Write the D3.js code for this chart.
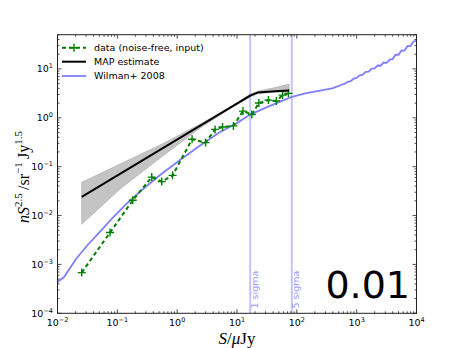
<!DOCTYPE html>
<html>
<head>
<meta charset="utf-8">
<script src="https://cdn.jsdelivr.net/npm/d3@7"></script>
<style>
body { margin: 0; background: #fff; }
svg { display: block; }
</style>
</head>
<body>
<div id="chart"></div>
<script>
// data points (noise-free input)
var dataS = [0.0254, 0.0755, 0.181, 0.376, 0.552, 0.838, 1.775, 2.98, 4.30, 5.74, 8.71, 12.6, 17.7, 23.2, 33.5, 45.4, 57.9, 72.4];
var dataN = [6.8e-4, 4.5e-3, 0.0205, 0.0612, 0.0495, 0.0664, 0.363, 0.311, 0.579, 0.646, 0.682, 1.37, 1.17, 2.0, 2.30, 2.20, 2.91, 3.16];

// MAP estimate and its band
var mapS = [0.0254, 16.6, 22.5, 43.4, 74.3];
var mapN = [0.0242, 2.84, 3.3, 3.5, 3.62];
var bandS = [0.0254, 0.111, 0.518, 2.42, 7.67, 16.6, 22.5, 43.4, 74.3];
var bandLo = [0.0066, 0.0348, 0.150, 0.615, 1.54, 2.65, 3.13, 3.36, 3.36];
var bandHi = [0.0478, 0.113, 0.277, 0.743, 1.66, 3.05, 3.52, 4.15, 4.89];

// Wilman+ 2008
var wilmanS = [0.01, 0.01285, 0.0162, 0.0204, 0.0308, 0.0514, 0.0857, 0.1435, 0.240, 0.518, 1.117, 2.415, 5.21, 9.66, 16.6, 33.1, 80.3, 137.7, 245, 405,
  446.7, 501.2, 562.3, 631, 707.9, 794.3, 891.3, 1000, 1122, 1259, 1413, 1585, 1778, 1995, 2239, 2512, 2818, 3162, 3548, 3981, 4467, 5012, 5623, 6310, 7079, 7943, 8913, 10000];
var wilmanN = [4.37e-4, 5.52e-4, 8.43e-4, 1.29e-3, 2.38e-3, 4.71e-3, 9.31e-3, 0.01758, 0.0310, 0.0673, 0.1365, 0.270, 0.511, 0.760, 1.162, 1.694, 2.65, 3.16, 3.60, 4.05,
  4.27, 4.42, 4.79, 4.95, 5.43, 5.62, 6.31, 6.53, 7.41, 7.59, 8.71, 8.81, 10.12, 10.23, 11.75, 11.61, 13.49, 13.34, 15.49, 15.85, 19.50, 19.50, 23.99, 23.71, 29.51, 29.17, 36.31, 37.58];

var sigmaS = [16.6, 82.5];
var sigmaLabels = ["1 sigma", "5 sigma"];
var xTicks = [1e-2, 1e-1, 1e0, 1e1, 1e2, 1e3, 1e4];
var xExp = ["\u22122", "\u22121", "0", "1", "2", "3", "4"];
var yTicks = [1e-4, 1e-3, 1e-2, 1e-1, 1e0, 1e1];
var yExp = ["\u22124", "\u22123", "\u22122", "\u22121", "0", "1"];
var legendLabels = ["data (noise-free, input)", "MAP estimate", "Wilman+ 2008"];

var W = 463, H = 348;
var x0 = 57.5, x1 = 416.5, y0 = 313.3, y1 = 34.7;

var x = d3.scaleLog().domain([1e-2, 1e4]).range([x0, x1]);
var y = d3.scaleLog().domain([1e-4, 50.1]).range([y0, y1]);

var svg = d3.select('#chart').append('svg')
    .attr('width', W)
    .attr('height', H)
    .style('font-family', 'DejaVu Sans, sans-serif');

svg.append('clipPath').attr('id', 'clip')
    .append('rect')
    .attr('x', x0).attr('y', y1)
    .attr('width', x1 - x0).attr('height', y0 - y1);

var plot = svg.append('g').attr('clip-path', 'url(#clip)');

// sigma lines
plot.selectAll('line.sigma')
    .data(sigmaS)
    .enter().append('line')
        .attr('class', 'sigma')
        .attr('x1', function(d) { return x(d) })
        .attr('x2', function(d) { return x(d) })
        .attr('y1', y1).attr('y2', y0)
        .style('stroke', '#c4c4ff')
        .style('stroke-width', 2);

svg.selectAll('text.sigma')
    .data(sigmaS)
    .enter().append('text')
        .attr('class', 'sigma')
        .text(function(d, i) { return sigmaLabels[i] })
        .attr('transform', function(d) { return 'translate(' + (x(d) + 7.5) + ',308.5) rotate(-90)' })
        .style('font-size', '9.5px')
        .style('fill', '#9a9aff');

// band
var bandIdx = d3.range(bandS.length);
plot.append('path')
    .datum(bandIdx)
    .attr('d', d3.area()
        .x(function(i) { return x(bandS[i]) })
        .y0(function(i) { return y(bandLo[i]) })
        .y1(function(i) { return y(bandHi[i]) })
    )
    .style('fill', '#c4c4c4')
    .style('stroke', '#a8a8a8')
    .style('stroke-width', 0.6);

// Wilman curve
plot.append('path')
    .datum(d3.range(wilmanS.length))
    .attr('d', d3.line()
        .x(function(i) { return x(wilmanS[i]) })
        .y(function(i) { return y(wilmanN[i]) })
    )
    .style('fill', 'none')
    .style('stroke', '#7f7fff')
    .style('stroke-width', 1.8);

// data dashed line + markers
plot.append('path')
    .datum(d3.range(dataS.length))
    .attr('d', d3.line()
        .x(function(i) { return x(dataS[i]) })
        .y(function(i) { return y(dataN[i]) })
    )
    .style('fill', 'none')
    .style('stroke', '#008000')
    .style('stroke-width', 2)
    .style('stroke-dasharray', '4,3');

plot.selectAll('path.pt')
    .data(d3.range(dataS.length))
    .enter().append('path')
        .attr('class', 'pt')
        .attr('d', 'M-4,0H4M0,-4V4')
        .attr('transform', function(i) { return 'translate(' + x(dataS[i]) + ',' + y(dataN[i]) + ')' })
        .style('stroke', '#008000')
        .style('stroke-width', 1.4);

// MAP line
plot.append('path')
    .datum(d3.range(mapS.length))
    .attr('d', d3.line()
        .x(function(i) { return x(mapS[i]) })
        .y(function(i) { return y(mapN[i]) })
    )
    .style('fill', 'none')
    .style('stroke', '#000')
    .style('stroke-width', 2);

// frame
svg.append('rect')
    .attr('x', x0).attr('y', y1)
    .attr('width', x1 - x0).attr('height', y0 - y1)
    .style('fill', 'none')
    .style('stroke', '#222')
    .style('stroke-width', 1);

// ticks (inside, all four sides)
var xMinor = [], yMinor = [];
xTicks.forEach(function(t) { for (var k = 2; k < 10; k++) if (t * k < 1e4) xMinor.push(t * k) });
yTicks.forEach(function(t) { for (var k = 2; k < 10; k++) if (t * k < 50.1) yMinor.push(t * k) });

var ticks = svg.append('g').style('stroke', '#222').style('stroke-width', 0.8);
function xt(vals, len) {
    vals.forEach(function(v) {
        ticks.append('line').attr('x1', x(v)).attr('x2', x(v)).attr('y1', y0).attr('y2', y0 - len);
        ticks.append('line').attr('x1', x(v)).attr('x2', x(v)).attr('y1', y1).attr('y2', y1 + len);
    });
}
function yt(vals, len) {
    vals.forEach(function(v) {
        ticks.append('line').attr('y1', y(v)).attr('y2', y(v)).attr('x1', x0).attr('x2', x0 + len);
        ticks.append('line').attr('y1', y(v)).attr('y2', y(v)).attr('x1', x1).attr('x2', x1 - len);
    });
}
xt(xTicks, 4); xt(xMinor, 2);
yt(yTicks, 4); yt(yMinor, 2);

// tick labels
var xl = svg.selectAll('text.xl')
    .data(xTicks)
    .enter().append('text')
        .attr('class', 'xl')
        .attr('x', function(d) { return x(d) })
        .attr('y', 326)
        .style('text-anchor', 'middle')
        .style('font-size', '9.5px');
xl.append('tspan').text('10');
xl.append('tspan').attr('dy', -4).style('font-size', '6.5px').text(function(d, i) { return xExp[i] });

var yl = svg.selectAll('text.yl')
    .data(yTicks)
    .enter().append('text')
        .attr('class', 'yl')
        .attr('x', 53)
        .attr('y', function(d) { return y(d) + 3.5 })
        .style('text-anchor', 'end')
        .style('font-size', '9.5px');
yl.append('tspan').text('10');
yl.append('tspan').attr('dy', -4).style('font-size', '6.5px').text(function(d, i) { return yExp[i] });

// axis labels
var xlab = svg.append('text')
    .attr('x', (x0 + x1) / 2)
    .attr('y', 344)
    .style('text-anchor', 'middle')
    .style('font-family', 'Liberation Serif, serif')
    .style('font-size', '17px');
xlab.append('tspan').style('font-style', 'italic').text('S');
xlab.append('tspan').text('/');
xlab.append('tspan').style('font-style', 'italic').text('\u03bc');
xlab.append('tspan').text('Jy');

var ylab = svg.append('text')
    .attr('transform', 'translate(29,' + 177 + ') rotate(-90)')
    .style('text-anchor', 'middle')
    .style('font-family', 'Liberation Serif, serif')
    .style('font-size', '16px');
ylab.append('tspan').style('font-style', 'italic').text('nS');
ylab.append('tspan').attr('dy', -7).style('font-size', '11px').text('2.5');
ylab.append('tspan').attr('dy', 7).text('\u2009/sr');
ylab.append('tspan').attr('dy', -7).style('font-size', '11px').text('\u22121');
ylab.append('tspan').attr('dy', 7).text('\u2009Jy');
ylab.append('tspan').attr('dy', -7).style('font-size', '11px').text('1.5');

// big label
svg.append('text')
    .attr('x', 410)
    .attr('y', 298)
    .style('text-anchor', 'end')
    .style('font-size', '38px')
    .text('0.01');

// legend
var legY = [47.7, 61.7, 76];
var lg = svg.append('g');
lg.append('line').attr('x1', 62).attr('x2', 86).attr('y1', legY[0]).attr('y2', legY[0])
    .style('stroke', '#008000').style('stroke-width', 2).style('stroke-dasharray', '4,3');
lg.append('path').attr('d', 'M-4,0H4M0,-4V4')
    .attr('transform', 'translate(74,' + legY[0] + ')')
    .style('stroke', '#008000').style('stroke-width', 1.4);
lg.append('line').attr('x1', 62).attr('x2', 86).attr('y1', legY[1]).attr('y2', legY[1])
    .style('stroke', '#000').style('stroke-width', 2);
lg.append('line').attr('x1', 62).attr('x2', 86).attr('y1', legY[2]).attr('y2', legY[2])
    .style('stroke', '#7f7fff').style('stroke-width', 1.8);
lg.selectAll('text')
    .data(legendLabels)
    .enter().append('text')
        .attr('x', 94)
        .attr('y', function(d, i) { return legY[i] + 3.3 })
        .style('font-size', '9.5px')
        .text(function(d) { return d });
</script>
</body>
</html>
